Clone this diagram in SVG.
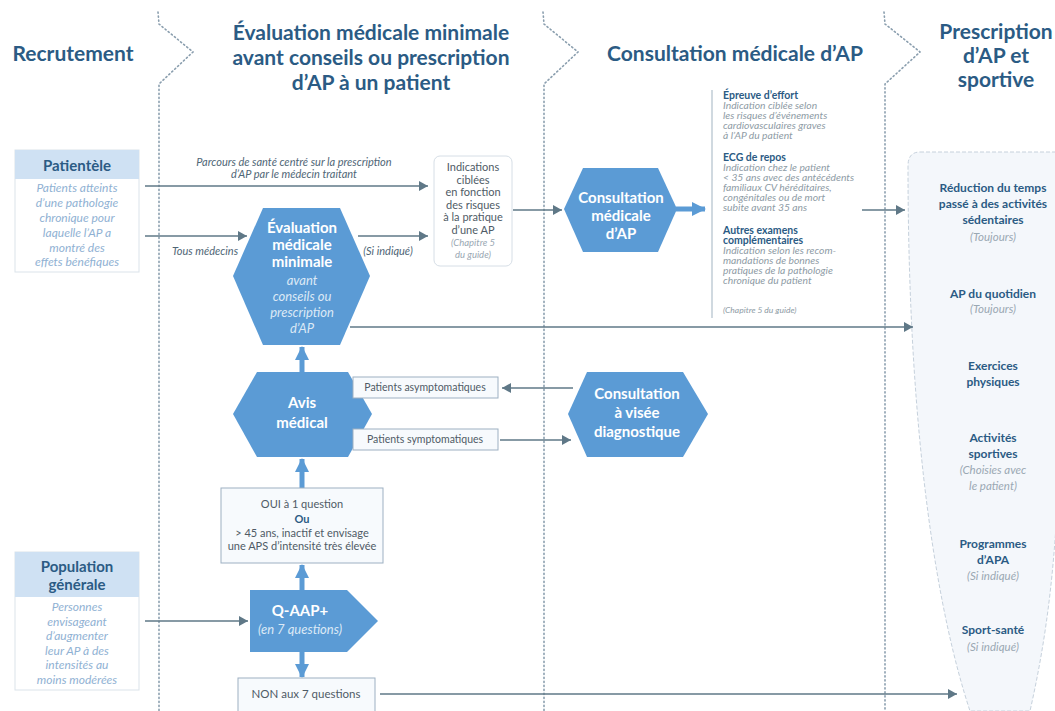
<svg xmlns="http://www.w3.org/2000/svg" width="1055" height="711" viewBox="0 0 1055 711">
<defs>
<marker id="ag" markerUnits="userSpaceOnUse" markerWidth="9" markerHeight="10" refX="9" refY="5" orient="auto"><path d="M0,0 L9,5 L0,10 z" fill="#5f7887"/></marker>
<marker id="ab" markerUnits="userSpaceOnUse" markerWidth="14" markerHeight="14" refX="13" refY="7" orient="auto"><path d="M0,0 L14,7 L0,14 z" fill="#5b9bd5"/></marker>
<style>
.sep{fill:none;stroke:#8a9eae;stroke-width:1.6;stroke-dasharray:1.2 2.8;stroke-linecap:round}
.cn{fill:none;stroke:#5f7887;stroke-width:1.6}
.cb{fill:none;stroke:#5b9bd5;stroke-width:5}
.hexa{fill:#5b9bd5}
.h{font-family:Lato,"Open Sans",sans-serif;font-weight:bold;font-size:21px;fill:#2b5b84;text-anchor:middle}
.hw{font-family:Lato,"Open Sans",sans-serif;font-weight:bold;font-size:15px;fill:#ffffff;text-anchor:middle}
.hwi{font-family:Lato,"Open Sans",sans-serif;font-style:italic;font-size:13px;fill:#dbe9f6;text-anchor:middle}
.lbh{font-family:Lato,"Open Sans",sans-serif;font-weight:bold;font-size:15px;fill:#2b5b84;text-anchor:middle}
.lbi{font-family:Lato,"Open Sans",sans-serif;font-style:italic;font-size:12px;fill:#8fb1d3;text-anchor:middle}
.lab{font-family:Lato,"Open Sans",sans-serif;font-style:italic;font-size:11px;fill:#4f6676;text-anchor:middle}
.bx{font-family:Lato,"Open Sans",sans-serif;font-size:11px;fill:#4f5b66;text-anchor:middle}
.bxs{font-family:Lato,"Open Sans",sans-serif;font-size:10.5px;fill:#4f5b66;text-anchor:middle}
.bxb{font-family:Lato,"Open Sans",sans-serif;font-weight:bold;font-size:11px;fill:#2b5b84;text-anchor:middle}
.bxi{font-family:Lato,"Open Sans",sans-serif;font-style:italic;font-size:9.5px;fill:#9aa8b3;text-anchor:middle}
.box{fill:#f7fafd;stroke:#9db0c2;stroke-width:1}
.rtb{font-family:Lato,"Open Sans",sans-serif;font-weight:bold;font-size:10.5px;fill:#2b5b84}
.rti{font-family:Lato,"Open Sans",sans-serif;font-style:italic;font-size:10.3px;fill:#8e9ba5}
.rcb{font-family:Lato,"Open Sans",sans-serif;font-weight:bold;font-size:12px;fill:#2b5b84;text-anchor:middle}
.rci{font-family:Lato,"Open Sans",sans-serif;font-style:italic;font-size:11.5px;fill:#9aa8b3;text-anchor:middle}
</style>
</defs>
<rect width="1055" height="711" fill="#ffffff"/>

<g id="separators">
<polyline class="sep" points="158,12 159,24 193,52 159,84 159,711"/>
<polyline class="sep" points="543,12 544,24 578,52 544,84 544,711"/>
<polyline class="sep" points="884,12 885,24 920,52 885,84 885,711"/>
</g>

<g id="headers">
<text class="h" x="73" y="61">Recrutement</text>
<text class="h" x="371" y="40">Évaluation médicale minimale</text>
<text class="h" x="371" y="65">avant conseils ou prescription</text>
<text class="h" x="371" y="90">d’AP à un patient</text>
<text class="h" x="735" y="61">Consultation médicale d’AP</text>
<text class="h" x="996" y="39">Prescription</text>
<text class="h" x="996" y="63">d’AP et</text>
<text class="h" x="996" y="87">sportive</text>
</g>

<g id="right-column">
<path d="M920,152 L1060,152 L1060,420 C1058,560 1046,640 1030,711 L970,711 C940,620 908,450 908,166 Q908,152 920,152 Z" fill="#f4f7fb" stroke="#c6d1dc" stroke-width="1" stroke-dasharray="4 2"/>
<text class="rcb" x="993" y="192">Réduction du temps</text>
<text class="rcb" x="993" y="208">passé à des activités</text>
<text class="rcb" x="993" y="224">sédentaires</text>
<text class="rci" x="993" y="241">(Toujours)</text>
<text class="rcb" x="993" y="298">AP du quotidien</text>
<text class="rci" x="993" y="313">(Toujours)</text>
<text class="rcb" x="993" y="370">Exercices</text>
<text class="rcb" x="993" y="386">physiques</text>
<text class="rcb" x="993" y="442">Activités</text>
<text class="rcb" x="993" y="458">sportives</text>
<text class="rci" x="993" y="474">(Choisies avec</text>
<text class="rci" x="993" y="490">le patient)</text>
<text class="rcb" x="993" y="548">Programmes</text>
<text class="rcb" x="993" y="564">d’APA</text>
<text class="rci" x="993" y="580">(Si indiqué)</text>
<text class="rcb" x="993" y="634">Sport-santé</text>
<text class="rci" x="993" y="651">(Si indiqué)</text>
</g>

<g id="connectors">
<line class="cn" x1="145" y1="186" x2="428" y2="186" marker-end="url(#ag)"/>
<line class="cn" x1="145" y1="236" x2="247" y2="236" marker-end="url(#ag)"/>
<line class="cn" x1="358" y1="236" x2="428" y2="236" marker-end="url(#ag)"/>
<line class="cn" x1="513" y1="210" x2="562" y2="210" marker-end="url(#ag)"/>
<line class="cn" x1="862" y1="210" x2="905" y2="210" marker-end="url(#ag)"/>
<line class="cn" x1="350" y1="327" x2="913" y2="327" marker-end="url(#ag)"/>
<line class="cn" x1="573" y1="388" x2="502" y2="388" marker-end="url(#ag)"/>
<line class="cn" x1="500" y1="440" x2="571" y2="440" marker-end="url(#ag)"/>
<line class="cn" x1="145" y1="621" x2="248" y2="621" marker-end="url(#ag)"/>
<line class="cn" x1="380" y1="694" x2="957" y2="694" marker-end="url(#ag)"/>
<line x1="712" y1="90" x2="712" y2="318" stroke="#c0ccd6" stroke-width="1.5"/>
<line class="cb" x1="302" y1="372" x2="302" y2="347" marker-end="url(#ab)"/>
<line class="cb" x1="302" y1="488" x2="302" y2="459" marker-end="url(#ab)"/>
<line class="cb" x1="302" y1="590" x2="302" y2="565" marker-end="url(#ab)"/>
<line class="cb" x1="302" y1="652" x2="302" y2="677" marker-end="url(#ab)"/>
<line class="cb" x1="676" y1="209" x2="705" y2="209" marker-end="url(#ab)"/>
<text class="lab" x="294" y="166">Parcours de santé centré sur la prescription</text>
<text class="lab" x="294" y="178">d’AP par le médecin traitant</text>
<text class="lab" x="205" y="255">Tous médecins</text>
<text class="lab" x="388" y="255">(Si indiqué)</text>
</g>

<g id="patientele">
<rect x="15" y="150" width="124" height="122" fill="#ffffff" stroke="#dbe3ea" stroke-width="1"/>
<rect x="15" y="150" width="124" height="29" fill="#cfe1f3"/>
<text class="lbh" x="77" y="171">Patientèle</text>
<text class="lbi" x="77" y="192">Patients atteints</text>
<text class="lbi" x="77" y="207">d’une pathologie</text>
<text class="lbi" x="77" y="222">chronique pour</text>
<text class="lbi" x="77" y="237">laquelle l’AP a</text>
<text class="lbi" x="77" y="252">montré des</text>
<text class="lbi" x="77" y="266">effets bénéfiques</text>
</g>

<g id="population">
<rect x="15" y="552" width="124" height="138" fill="#ffffff" stroke="#dbe3ea" stroke-width="1"/>
<rect x="15" y="552" width="124" height="45" fill="#cfe1f3"/>
<text class="lbh" x="77" y="572">Population</text>
<text class="lbh" x="77" y="590">générale</text>
<text class="lbi" x="77" y="611">Personnes</text>
<text class="lbi" x="77" y="625.5">envisageant</text>
<text class="lbi" x="77" y="640">d’augmenter</text>
<text class="lbi" x="77" y="654.5">leur AP à des</text>
<text class="lbi" x="77" y="669">intensités au</text>
<text class="lbi" x="77" y="683.5">moins modérées</text>
</g>

<g id="evaluation">
<polygon class="hexa" points="263,208 340,208 370,276 340,345 263,345 233,276"/>
<text class="hw" x="302" y="233">Évaluation</text>
<text class="hw" x="302" y="250">médicale</text>
<text class="hw" x="302" y="267">minimale</text>
<text class="hwi" x="302" y="285">avant</text>
<text class="hwi" x="302" y="301">conseils ou</text>
<text class="hwi" x="302" y="317">prescription</text>
<text class="hwi" x="302" y="333">d’AP</text>
</g>

<g id="indications">
<rect x="434" y="156" width="78" height="110" rx="6" fill="#ffffff" stroke="#d6dee6" stroke-width="1"/>
<text class="bx" x="473" y="171">Indications</text>
<text class="bx" x="473" y="183.5">ciblées</text>
<text class="bx" x="473" y="196">en fonction</text>
<text class="bx" x="473" y="208.5">des risques</text>
<text class="bx" x="473" y="221">à la pratique</text>
<text class="bx" x="473" y="233.5">d’une AP</text>
<text class="bxi" x="473" y="246">(Chapitre 5</text>
<text class="bxi" x="473" y="258">du guide)</text>
</g>

<g id="consultation-ap">
<polygon class="hexa" points="583,168 658,168 677,209 658,252 583,252 564,209"/>
<text class="hw" x="621" y="203">Consultation</text>
<text class="hw" x="621" y="221">médicale</text>
<text class="hw" x="621" y="239">d’AP</text>
</g>

<g id="examens">
<text class="rtb" x="723" y="99">Épreuve d’effort</text>
<text class="rti" x="723" y="109">Indication ciblée selon</text>
<text class="rti" x="723" y="119">les risques d’événements</text>
<text class="rti" x="723" y="129">cardiovasculaires graves</text>
<text class="rti" x="723" y="139">à l’AP du patient</text>
<text class="rtb" x="723" y="161">ECG de repos</text>
<text class="rti" x="723" y="171">Indication chez le patient</text>
<text class="rti" x="723" y="181">&lt; 35 ans avec des antécédents</text>
<text class="rti" x="723" y="191">familiaux CV héréditaires,</text>
<text class="rti" x="723" y="201">congénitales ou de mort</text>
<text class="rti" x="723" y="211">subite avant 35 ans</text>
<text class="rtb" x="723" y="234">Autres examens</text>
<text class="rtb" x="723" y="244">complémentaires</text>
<text class="rti" x="723" y="254">Indication selon les recom-</text>
<text class="rti" x="723" y="264">mandations de bonnes</text>
<text class="rti" x="723" y="274">pratiques de la pathologie</text>
<text class="rti" x="723" y="284">chronique du patient</text>
<text class="rti" x="723" y="313" style="font-size:8.5px">(Chapitre 5 du guide)</text>
</g>

<g id="avis">
<polygon class="hexa" points="257,372 348,372 372,414 348,457 257,457 233,414"/>
<text class="hw" x="302" y="408">Avis</text>
<text class="hw" x="302" y="428">médical</text>
</g>

<g id="asymptomatiques">
<rect class="box" x="353" y="377" width="145" height="21"/>
<text class="bxs" x="425" y="391">Patients asymptomatiques</text>
</g>

<g id="symptomatiques">
<rect class="box" x="353" y="429" width="145" height="21"/>
<text class="bxs" x="425" y="443">Patients symptomatiques</text>
</g>

<g id="diagnostique">
<polygon class="hexa" points="587,372 683,372 708,414 683,457 587,457 568,414"/>
<text class="hw" x="637" y="399">Consultation</text>
<text class="hw" x="637" y="418">à visée</text>
<text class="hw" x="637" y="437">diagnostique</text>
</g>

<g id="oui">
<rect class="box" x="221" y="488" width="162" height="75"/>
<text class="bx" x="302" y="508">OUI à 1 question</text>
<text class="bxb" x="302" y="523">Ou</text>
<text class="bx" x="302" y="537">&gt; 45 ans, inactif et envisage</text>
<text class="bx" x="302" y="550">une APS d’intensité très élevée</text>
</g>

<g id="qaap">
<polygon class="hexa" points="250,590 347,590 378,621 347,652 250,652"/>
<text class="hw" x="300" y="616">Q-AAP+</text>
<text class="hwi" x="300" y="634">(en 7 questions)</text>
</g>

<g id="non">
<rect class="box" x="238" y="678" width="137" height="36"/>
<text class="bx" x="306" y="698" style="font-size:11.5px">NON aux 7 questions</text>
</g>
</svg>
